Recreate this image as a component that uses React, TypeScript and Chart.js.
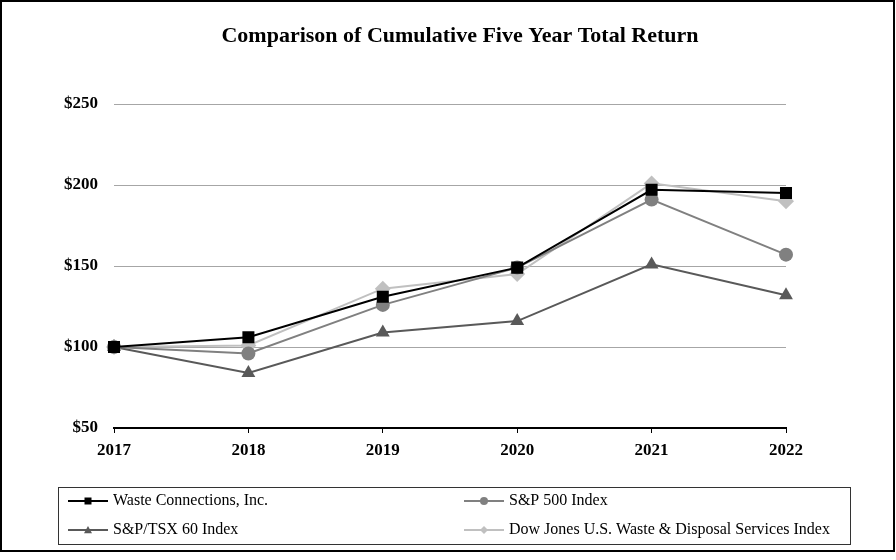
import React, { useEffect, useRef } from "react";
import { Chart, registerables } from "chart.js";

Chart.register(...registerables);

const years = ["2017", "2018", "2019", "2020", "2021", "2022"];
const wasteConnections = [100, 106, 131, 149, 197, 195];
const sp500 = [100, 96, 126, 149, 191, 157];
const tsx60 = [100, 84, 109, 116, 151, 132];
const dowJonesWaste = [100, 101, 136, 145, 201, 190];

const seriesNames = [
  "Waste Connections, Inc.",
  "S&P 500 Index",
  "S&P/TSX 60 Index",
  "Dow Jones U.S. Waste & Disposal Services Index",
];
const titleText = "Comparison of Cumulative Five Year Total Return";

const colors = ["#000000", "#808080", "#595959", "#c0c0c0"];
const pointStyles = ["rect", "circle", "triangle", "rectRot"];
const pointRadii = [8.5, 7, 8, 8];

const serif = '"Liberation Serif", "Times New Roman", serif';

function drawMarker(ctx: CanvasRenderingContext2D, style: string, x: number, y: number, r: number, color: string) {
  ctx.save();
  ctx.fillStyle = color;
  ctx.beginPath();
  if (style === "rect") {
    ctx.rect(x - r, y - r, 2 * r, 2 * r);
  } else if (style === "circle") {
    ctx.arc(x, y, r, 0, Math.PI * 2);
  } else if (style === "triangle") {
    ctx.moveTo(x, y - r);
    ctx.lineTo(x + r, y + r * 0.8);
    ctx.lineTo(x - r, y + r * 0.8);
    ctx.closePath();
  } else {
    ctx.moveTo(x, y - r);
    ctx.lineTo(x + r, y);
    ctx.lineTo(x, y + r);
    ctx.lineTo(x - r, y);
    ctx.closePath();
  }
  ctx.fill();
  ctx.restore();
}

const decorPlugin = {
  id: "decor",
  afterDraw(chart: any) {
    const ctx: CanvasRenderingContext2D = chart.ctx;
    ctx.save();
    // outer frame
    ctx.strokeStyle = "#000";
    ctx.lineWidth = 2;
    ctx.strokeRect(1, 1, 893, 550);
    // title
    ctx.fillStyle = "#000";
    ctx.font = `bold 22px ${serif}`;
    ctx.textAlign = "center";
    ctx.textBaseline = "middle";
    ctx.fillText(titleText, 460, 36);
    // legend box
    ctx.lineWidth = 1;
    ctx.strokeStyle = "#333";
    ctx.strokeRect(58.5, 487.5, 792, 57);
    const items = [
      { x: 68, y: 501 },
      { x: 464, y: 501 },
      { x: 68, y: 530 },
      { x: 464, y: 530 },
    ];
    ctx.font = `16px ${serif}`;
    ctx.textAlign = "left";
    items.forEach((it, i) => {
      ctx.strokeStyle = colors[i];
      ctx.lineWidth = 2;
      ctx.beginPath();
      ctx.moveTo(it.x, it.y);
      ctx.lineTo(it.x + 40, it.y);
      ctx.stroke();
      drawMarker(ctx, pointStyles[i], it.x + 20, it.y, i === 0 ? 3.5 : 4, colors[i]);
      ctx.fillStyle = "#000";
      ctx.fillText(seriesNames[i], it.x + 45, it.y);
    });
    ctx.restore();
  },
};

export default function App() {
  const canvasRef = useRef<HTMLCanvasElement | null>(null);

  useEffect(() => {
    document.body.style.margin = "0";
    const canvas = canvasRef.current;
    if (!canvas) return;
    const seriesData = [wasteConnections, sp500, tsx60, dowJonesWaste];
    const chart = new Chart(canvas, {
      type: "line",
      data: {
        labels: years,
        datasets: seriesData.map((d, i) => ({
          label: seriesNames[i],
          data: d,
          borderColor: colors[i],
          backgroundColor: colors[i],
          borderWidth: 2,
          pointStyle: pointStyles[i] as any,
          pointRadius: pointRadii[i],
          pointBorderWidth: 0,
          pointBackgroundColor: colors[i],
          tension: 0,
          fill: false,
        })),
      },
      options: {
        responsive: false,
        animation: false,
        devicePixelRatio: 1,
        layout: { padding: { left: 0, right: 110, top: 104, bottom: 92 } },
        plugins: {
          legend: { display: false },
          title: { display: false },
          tooltip: { enabled: false },
        },
        scales: {
          x: {
            offset: false,
            afterFit: (scale: any) => {
              scale.height = 40;
            },
            grid: {
              drawOnChartArea: false,
              drawTicks: true,
              tickLength: 5,
              color: "#000",
              lineWidth: 1,
            },
            border: { display: true, color: "#000", width: 2 },
            ticks: {
              color: "#000",
              padding: 7,
              maxRotation: 0,
              font: { family: serif, size: 17, weight: "bold" },
            },
          },
          y: {
            min: 50,
            max: 250,
            afterFit: (scale: any) => {
              scale.width = 114;
            },
            grid: { color: "#a6a6a6", lineWidth: 1, drawTicks: false },
            border: { display: false },
            ticks: {
              stepSize: 50,
              padding: 16,
              color: "#000",
              font: { family: serif, size: 17, weight: "bold" },
              callback: (v: any) => "$" + v,
            },
          },
        },
      },
      plugins: [decorPlugin],
    });
    return () => chart.destroy();
  }, []);

  return (
    <div style={{ width: 896, height: 560, background: "#fff" }}>
      <canvas ref={canvasRef} width={896} height={560} style={{ display: "block" }} />
    </div>
  );
}
